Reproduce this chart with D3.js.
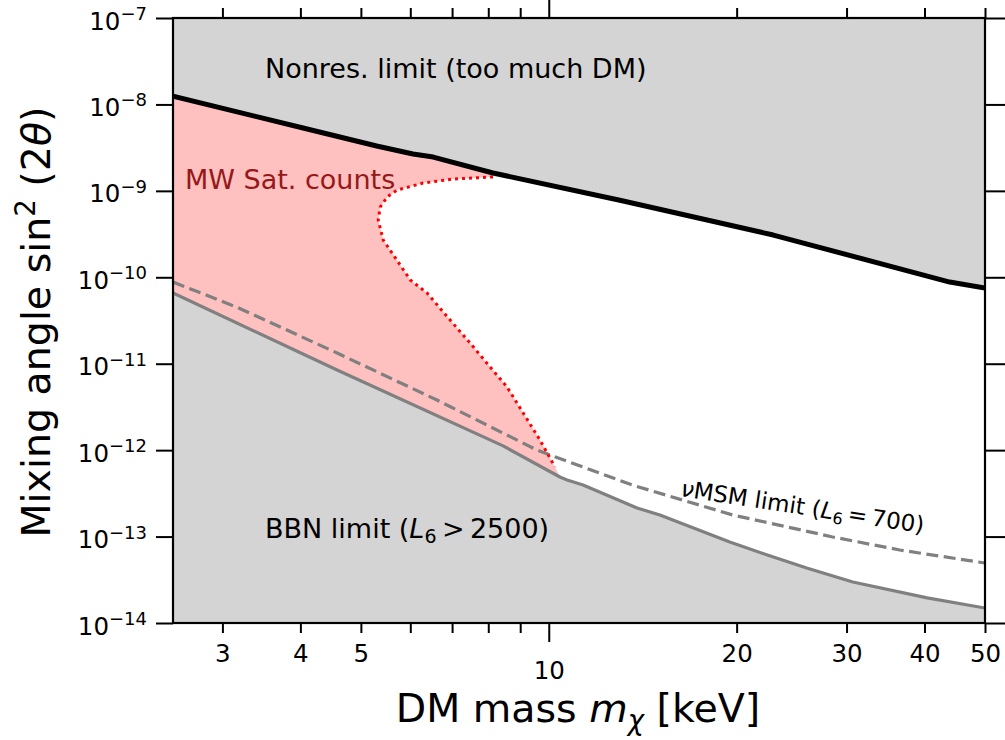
<!DOCTYPE html>
<html><head><meta charset="utf-8">
<script src="https://cdn.jsdelivr.net/npm/d3@7"></script>
<style>
body{margin:0;background:#fff;}
svg{display:block;font-family:"DejaVu Sans",sans-serif;}
</style></head><body>
<svg id="chart" width="1005" height="740"></svg>
<script>
// ---- data (mass in keV, sin^2(2theta)) ----
const nonresMass  = [2.5, 4.04, 5.30, 6.06, 6.53, 8.14, 13.0, 22.9, 43.9, 50];
const nonresAngle = [1.25e-8, 5.33e-9, 3.30e-9, 2.67e-9, 2.46e-9, 1.61e-9, 7.8e-10, 3.08e-10, 8.8e-11, 7.5e-11];

const bbnMass  = [2.5, 4.58, 8.45, 10.42, 10.7, 11.35, 13.85, 15.07, 19.5, 22.4, 25.9, 30.7, 40.4, 50];
const bbnAngle = [6.58e-11, 8.46e-12, 1.12e-12, 4.89e-13, 4.52e-13, 3.95e-13, 2.14e-13, 1.78e-13, 8.65e-14, 6.12e-14, 4.33e-14, 2.98e-14, 1.95e-14, 1.49e-14];

const nuMass  = [2.5, 3.16, 4.58, 6.62, 9.58, 10.05, 13.6, 19.7, 28.5, 36.5, 50];
const nuAngle = [8.81e-11, 4.53e-11, 1.33e-11, 3.80e-12, 1.00e-12, 8.79e-13, 3.95e-13, 1.78e-13, 9.9e-14, 7.0e-14, 4.94e-14];

const mwMass  = [8.14, 7.02, 6.29, 5.71, 5.51, 5.37, 5.33, 5.43, 5.71, 6.00, 6.38, 6.95, 7.48, 8.05, 8.57, 9.10, 9.68, 10.23];
const mwAngle = [1.45e-9, 1.37e-9, 1.23e-9, 1.02e-9, 8.5e-10, 6.5e-10, 4.6e-10, 2.7e-10, 1.58e-10, 9.3e-11, 6.6e-11, 3.2e-11, 1.74e-11, 9.2e-12, 5.4e-12, 2.69e-12, 1.31e-12, 6.4e-13];

const xMinorTicks = [3, 4, 5, 6, 7, 8, 9, 20, 30, 40, 50];
const xMinorLabels = ["3", "4", "5", "", "", "", "", "20", "30", "40", "50"];
const xMajorTicks = [10];
const xMajorLabels = ["10"];
const yTicks = [1e-14, 1e-13, 1e-12, 1e-11, 1e-10, 1e-9, 1e-8, 1e-7];
const yTickExponents = ["\u221214", "\u221213", "\u221212", "\u221211", "\u221210", "\u22129", "\u22128", "\u22127"];

// ---- layout ----
const L = 173, R = 985, T = 18, B = 623;
const svg = d3.select("#chart");
const x = d3.scaleLog().domain([2.5, 50]).range([L, R]);
const y = d3.scaleLog().domain([1e-14, 1e-7]).range([B, T]);

svg.append("defs").append("clipPath").attr("id", "clip")
  .append("rect").attr("x", L).attr("y", T).attr("width", R - L).attr("height", B - T);

const pts = (ms, vs) => ms.map((m, i) => [m, vs[i]]);
const nonres = pts(nonresMass, nonresAngle);
const bbn = pts(bbnMass, bbnAngle);
const nu = pts(nuMass, nuAngle);
const mw = pts(mwMass, mwAngle);

const plot = svg.append("g").attr("clip-path", "url(#clip)");
const line = d3.line().x(d => x(d[0])).y(d => y(d[1]));

const grayFill = "#d4d4d4";
plot.append("path").datum(nonres)
  .attr("d", d3.area().x(d => x(d[0])).y0(T).y1(d => y(d[1])))
  .attr("fill", grayFill);
plot.append("path").datum(bbn)
  .attr("d", d3.area().x(d => x(d[0])).y0(B).y1(d => y(d[1])))
  .attr("fill", grayFill);

const pink = nonres.filter(d => d[0] <= mwMass[0])
  .concat(mw)
  .concat(bbn.filter(d => d[0] <= 10.5).reverse());
plot.append("path").attr("d", line(pink) + "Z").attr("fill", "#ffc0c0");

plot.append("path").datum(nu).attr("d", line)
  .attr("fill", "none").attr("stroke", "#808080").attr("stroke-width", 3.2)
  .attr("stroke-dasharray", "12,5.5");
plot.append("path").datum(bbn).attr("d", line)
  .attr("fill", "none").attr("stroke", "#808080").attr("stroke-width", 3.2)
  .attr("stroke-linejoin", "round");
plot.append("path").datum(mw).attr("d", line)
  .attr("fill", "none").attr("stroke", "#ff0000").attr("stroke-width", 3)
  .attr("stroke-dasharray", "3,4");
plot.append("path").datum(nonres).attr("d", line)
  .attr("fill", "none").attr("stroke", "#000").attr("stroke-width", 5)
  .attr("stroke-linejoin", "round");

// ---- annotations ----
const ann = svg.append("g").attr("font-size", 27).attr("font-family", "DejaVu Sans");
ann.append("text").attr("x", 265).attr("y", 78).text("Nonres. limit (too much DM)");
ann.append("text").attr("x", 185).attr("y", 189).attr("fill", "#961818").text("MW Sat. counts");
const bbnT = ann.append("text").attr("x", 265).attr("y", 538);
bbnT.append("tspan").text("BBN limit (");
bbnT.append("tspan").attr("font-style", "italic").text("L");
bbnT.append("tspan").attr("font-size", 19).attr("dy", 5).text("6");
bbnT.append("tspan").attr("dy", -5).text("\u2009>\u20092500)");
const nuT = ann.append("text").attr("font-size", 23)
  .attr("transform", "translate(680,496) rotate(8.7)");
nuT.append("tspan").attr("font-style", "italic").text("\u03bd");
nuT.append("tspan").text("MSM limit (");
nuT.append("tspan").attr("font-style", "italic").text("L");
nuT.append("tspan").attr("font-size", 16).attr("dy", 4).text("6");
nuT.append("tspan").attr("dy", -4).text("\u2009=\u2009700)");

// ---- axes ----
function styleAxis(g) {
  g.select(".domain").remove();
  g.attr("font-family", "DejaVu Sans").attr("font-size", 24.5);
  g.selectAll(".tick line").attr("stroke", "#000").attr("stroke-width", 2);
  g.selectAll(".tick text").attr("fill", "#000");
}
svg.append("g").attr("transform", `translate(0,${B})`)
  .call(d3.axisBottom(x).tickValues(xMinorTicks).tickSize(10).tickPadding(12)
    .tickFormat((d, i) => xMinorLabels[i])).call(styleAxis);
svg.append("g").attr("transform", `translate(0,${B})`)
  .call(d3.axisBottom(x).tickValues(xMajorTicks).tickSize(19).tickPadding(20)
    .tickFormat((d, i) => xMajorLabels[i])).call(styleAxis);
svg.append("g").attr("transform", `translate(0,${T})`)
  .call(d3.axisTop(x).tickValues(xMinorTicks).tickSize(10).tickFormat(() => "")).call(styleAxis);
svg.append("g").attr("transform", `translate(0,${T})`)
  .call(d3.axisTop(x).tickValues(xMajorTicks).tickSize(19).tickFormat(() => "")).call(styleAxis);
svg.append("g").attr("transform", `translate(${R},0)`)
  .call(d3.axisRight(y).tickValues(yTicks).tickSize(20).tickFormat(() => "")).call(styleAxis);
const yl = svg.append("g").attr("transform", `translate(${L},0)`)
  .call(d3.axisLeft(y).tickValues(yTicks).tickSize(17).tickPadding(9)).call(styleAxis);
yl.selectAll(".tick text").each(function(d, i) {
  const t = d3.select(this).text(null).attr("dy", 11);
  t.append("tspan").text("10");
  t.append("tspan").attr("font-size", 18).attr("dy", -9.5).text(yTickExponents[i]);
});

svg.append("rect").attr("x", L).attr("y", T).attr("width", R - L).attr("height", B - T)
  .attr("fill", "none").attr("stroke", "#000").attr("stroke-width", 2.2);

// ---- titles ----
const xt = svg.append("text").attr("x", 578).attr("y", 722).attr("text-anchor", "middle")
  .attr("font-size", 39.5);
xt.append("tspan").text("DM mass ");
xt.append("tspan").attr("font-style", "italic").text("m");
xt.append("tspan").attr("font-style", "italic").attr("font-size", 27.5).attr("dy", 8).text("\u03c7");
xt.append("tspan").attr("dy", -8).text(" [keV]");

const yt = svg.append("text").attr("transform", "translate(50,322) rotate(-90)")
  .attr("text-anchor", "middle").attr("font-size", 39.5);
yt.append("tspan").text("Mixing angle sin");
yt.append("tspan").attr("font-size", 27.5).attr("dy", -15).text("2");
yt.append("tspan").attr("dy", 15).text(" (2");
yt.append("tspan").attr("font-style", "italic").text("\u03b8");
yt.append("tspan").text(")");
</script>
</body></html>
